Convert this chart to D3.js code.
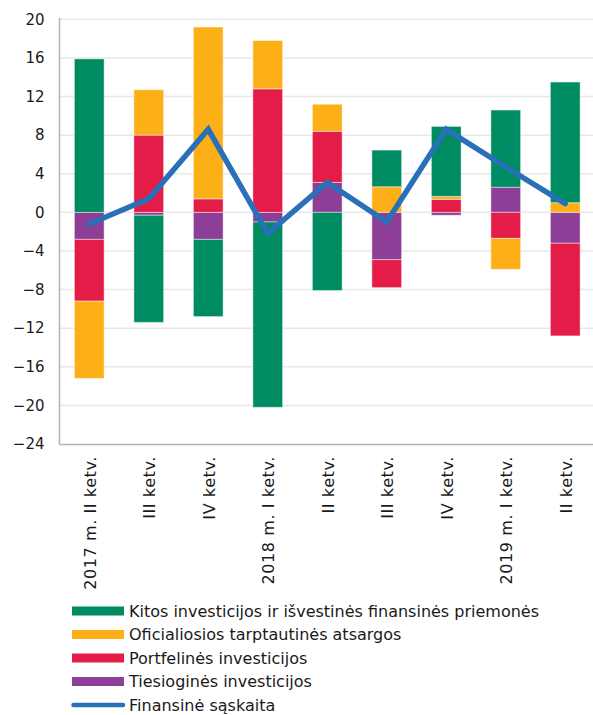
<!DOCTYPE html>
<html>
<head>
<meta charset="utf-8">
<script src="https://cdn.jsdelivr.net/npm/d3@7"></script>
<style>
  body { margin: 0; background: #fff; }
  text { font-family: "DejaVu Sans", Verdana, sans-serif; fill: #1a1a1a; }
</style>
</head>
<body>
<div id="chart"></div>
<script>
// quarters on the x axis
var categories = ["2017 m. II ketv.", "III ketv.", "IV ketv.", "2018 m. I ketv.",
  "II ketv.", "III ketv.", "IV ketv.", "2019 m. I ketv.", "II ketv."];

// series values
var tiesiogines = [-2.8, -0.3, -2.8, -1.0, 3.1, -4.9, -0.3, 2.6, -3.2];
var portfelines = [-6.4, 8.0, 1.4, 12.8, 5.3, -2.9, 1.35, -2.7, -9.6];
var oficialiosios = [-8.0, 4.7, 17.8, 5.0, 2.8, 2.65, 0.3, -3.2, 1.0];
var kitos = [15.9, -11.1, -8.0, -19.2, -8.1, 3.8, 7.25, 8.0, 12.5];
var finansine = [-1.2, 1.4, 8.6, -2.2, 3.1, -1.0, 8.6, 4.7, 0.9];

var yTicks = [-24, -20, -16, -12, -8, -4, 0, 4, 8, 12, 16, 20];

var series = [
  { key: "tiesiogines", name: "Tiesioginės investicijos", color: "#8d3f97", values: tiesiogines },
  { key: "portfelines", name: "Portfelinės investicijos", color: "#e31d48", values: portfelines },
  { key: "oficialiosios", name: "Oficialiosios tarptautinės atsargos", color: "#fdaf17", values: oficialiosios },
  { key: "kitos", name: "Kitos investicijos ir išvestinės finansinės priemonės", color: "#008c62", values: kitos }
];

var svgWidth = 593;
var svgHeight = 715;

var svg = d3.select("#chart")
  .append("svg")
  .attr("width", svgWidth)
  .attr("height", svgHeight);

// build table for d3.stack
var table = categories.map(function(c, i) {
  var row = { idx: i };
  series.forEach(function(s) { row[s.key] = s.values[i]; });
  return row;
});

var stacked = d3.stack()
  .keys(series.map(s => s.key))
  .offset(d3.stackOffsetDiverging)(table);

var x = d3.scaleBand()
  .domain(categories.map((c, i) => i))
  .range([59.5, 595])
  .paddingInner(0.5)
  .paddingOuter(0.25);

var y = d3.scaleLinear()
  .domain([-24, 20])
  .range([444, 19.3]);

// gridlines
svg.append("g")
  .selectAll("line")
  .data(yTicks.filter(t => t > -24))
  .enter()
  .append("line")
  .attr("x1", 60)
  .attr("x2", svgWidth)
  .attr("y1", d => y(d))
  .attr("y2", d => y(d))
  .attr("stroke", "#e8e8e8")
  .attr("stroke-width", 1.5);

// y axis labels
var leftAxis = d3.axisLeft(y).tickValues(yTicks).tickSize(0).tickPadding(15);
var yAxis = svg.append("g")
  .attr("transform", "translate(59.5,0)")
  .call(leftAxis);
yAxis.select(".domain").remove();
yAxis.selectAll("text")
  .attr("font-size", 15)
  .attr("font-family", "DejaVu Sans, Verdana, sans-serif")
  .attr("fill", "#1a1a1a");

// bars
svg.append("g")
  .selectAll("g")
  .data(stacked)
  .enter()
  .append("g")
  .attr("fill", (d, i) => series[i].color)
  .selectAll("rect")
  .data(d => d)
  .enter()
  .append("rect")
  .attr("x", d => x(d.data.idx))
  .attr("width", x.bandwidth())
  .attr("y", d => y(Math.max(d[0], d[1])))
  .attr("height", d => Math.abs(y(d[0]) - y(d[1])))
  .attr("stroke", "#ffffff")
  .attr("stroke-opacity", 0.45)
  .attr("stroke-width", 1);

// axis lines
svg.append("line")
  .attr("x1", 59.5).attr("x2", 59.5)
  .attr("y1", 18).attr("y2", 444.5)
  .attr("stroke", "#b3b3b3").attr("stroke-width", 1.5);
svg.append("line")
  .attr("x1", 59.5).attr("x2", svgWidth)
  .attr("y1", 444.5).attr("y2", 444.5)
  .attr("stroke", "#b3b3b3").attr("stroke-width", 1.5);

// line series
var line = d3.line()
  .x((d, i) => x(i) + x.bandwidth() / 2)
  .y(d => y(d));

svg.append("path")
  .datum(finansine)
  .attr("d", line)
  .attr("fill", "none")
  .attr("stroke", "#2870b8")
  .attr("stroke-width", 5.5)
  .attr("stroke-linecap", "round");

// x labels, rotated
svg.append("g")
  .selectAll("text")
  .data(categories)
  .enter()
  .append("text")
  .attr("transform", (d, i) => `translate(${x(i) + x.bandwidth() / 2 + 1}, 456) rotate(-90)`)
  .attr("text-anchor", "end")
  .attr("dy", "0.35em")
  .attr("font-size", 16)
  .attr("letter-spacing", 0.6)
  .text(d => d);

// legend
var legendItems = series.slice().reverse().map(s => ({ name: s.name, color: s.color, type: "bar" }));
legendItems.push({ name: "Finansinė sąskaita", color: "#2870b8", type: "line" });

var legend = svg.append("g")
  .selectAll("g")
  .data(legendItems)
  .enter()
  .append("g")
  .attr("transform", (d, i) => `translate(72, ${611 + i * 23.5})`);

legend.filter(d => d.type === "bar")
  .append("rect")
  .attr("x", 0)
  .attr("y", -4.5)
  .attr("width", 52)
  .attr("height", 9)
  .attr("fill", d => d.color);

legend.filter(d => d.type === "line")
  .append("line")
  .attr("x1", 1.5).attr("x2", 51)
  .attr("y1", 0).attr("y2", 0)
  .attr("stroke", d => d.color)
  .attr("stroke-width", 4.5)
  .attr("stroke-linecap", "round");

legend.append("text")
  .attr("x", 57)
  .attr("dy", "0.35em")
  .attr("font-size", 16)
  .text(d => d.name);
</script>
</body>
</html>
